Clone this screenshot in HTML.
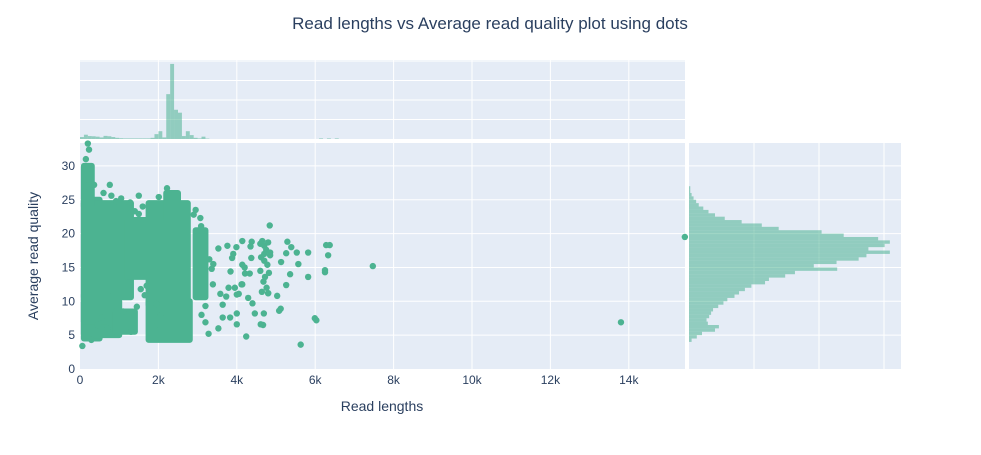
<!DOCTYPE html>
<html><head><meta charset="utf-8">
<style>
body{margin:0;background:#fff;}
svg text{font-family:"Liberation Sans",sans-serif;fill:#2a3f5f;}
</style></head>
<body>
<svg id="c" width="981" height="450" xmlns="http://www.w3.org/2000/svg">
<text x="490" y="29" text-anchor="middle" font-size="17">Read lengths vs Average read quality plot using dots</text>
<text x="382" y="411" text-anchor="middle" font-size="14">Read lengths</text>
<text transform="translate(38,256) rotate(-90)" text-anchor="middle" font-size="14">Average read quality</text>
</svg>
<script>
// scatter data (x in kb, y quality)
const ptX=[4.84,6.37,6.33,6.25,5.82,5.82,5.99,6.03,5.63,4.24,5.29,5.39,5.53,5.26,5.13,5.57,5.36,5.26,5.03,5.12,5.08,4.67,4.61,4.69,4.46,4.40,4.29,4.14,4.21,4.33,4.14,4.2,4.37,4.38,4.14,4.35,3.99,3.76,3.53,3.91,3.88,3.84,3.79,3.95,4.05,4.0,3.73,3.58,3.64,4.0,3.83,3.64,4.0,3.53,4.12,4.8,7.47,13.8,15.43,6.28,6.25,0.2,0.23,0.76,1.5,2.22,1.28,1.5,3.07,3.09,2.01,0.92,0.36,0.06,0.29,3.39,3.36,3.3,3.28,3.2,3.2,0.15,0.18,0.2,0.25,
4.6,4.65,4.7,4.75,4.8,4.85,4.62,4.7,4.78,4.85,4.6,4.72,4.82,4.68,4.76,4.64,4.8,4.7,
1.05,1.2,1.4,1.6,0.6,0.8,1.1,1.45,0.7,1.3,1.9,2.05,1.65,0.45,0.55,1.7,1.55,1.95,2.9,2.95,3.4,3.1];
const ptY=[21.2,18.3,16.8,14.3,17.2,13.6,7.5,7.2,3.6,4.8,18.8,18.0,17.2,17.1,15.8,15.5,14.0,12.4,10.8,8.9,8.6,6.5,6.6,8.2,8.2,9.7,10.5,12.5,14.1,14.1,15.4,15.0,16.4,18.8,18.9,18.1,18.0,18.2,17.8,17.0,16.4,14.4,12.0,12.0,11.1,11.0,10.7,11.1,9.5,8.2,7.6,7.6,6.6,6.0,12.5,11.2,15.2,6.9,19.5,18.3,14.6,33.3,32.4,27.2,25.6,26.7,24.6,22.9,22.3,21.1,25.4,24.8,27.2,3.4,4.3,12.5,14.8,16.2,5.2,6.9,9.3,31,29.5,28,26.5,
18.5,18.9,18.2,17.6,18.7,17.2,16.5,16.0,15.4,16.8,14.5,13.6,14.2,12.9,12.0,11.4,11.2,17.0,
25.2,23.8,23.3,24.0,26.0,25.6,8.5,9.2,6.0,5.5,6.3,7.9,10.9,6.5,7.6,12.3,11.8,9.6,22.8,23.5,15.5,8.0];
// dense clusters: [x0,x1,y0,y1] in kb / quality
const blobX0=[0.1,0.1,1.2,1.75,1.75,0.1,2.95,0.1,2.2,0.1,0.9];
const blobX1=[0.5,1.3,1.9,2.75,2.8,1.0,3.2,0.3,2.5,0.7,1.4];
const blobY0=[4.5,10.6,13.6,9.5,4.3,5.0,10.6,24,22,7,5.5];
const blobY1=[25,24.5,22,24.5,10,10,20.5,30,26,11,8.5];
// top histogram (100bp bins starting at 0)
const topCounts=[10,22,15,14,12,8,16,14,10,6,4,3,3,3,3,3,3,3,6,25,40,8,230,385,150,135,15,40,20,6,3,12,2,0,0,0,0,0,0,0,0,0,0,0,0,0,0,0,0,0,0,0,0,0,0,0,0,0,0,0,0,3,0,3,0,3];
// right histogram (quality bins of 0.5, starting at 4)
const qCounts=[4,12,20,40,46,29,27,31,34,37,45,53,59,70,77,86,96,117,123,148,163,228,192,227,261,273,309,276,301,309,291,238,204,138,112,81,55,40,30,22,15,11,7,4,2,2];
const NS='http://www.w3.org/2000/svg';
const svg=document.getElementById('c');
function mk(t,a,p){const e=document.createElementNS(NS,t);for(const k in a)e.setAttribute(k,a[k]);(p||svg).appendChild(e);return e;}
const X0=80,X1=685,Y0=143,Y1=369;
const sx=v=>X0+v*39.2, sy=v=>Y1-v*6.77;
const TB=139, ty=c=>TB-c*0.195;
const RB=689, rx=c=>RB+c*0.65;
const bin=0.1, qb=0.5, q0=4;
let e=mk('rect',{x:X0,y:Y0,width:X1-X0,height:Y1-Y0,fill:'#e5ecf6'});

e=mk('rect',{x:X0,y:60,width:X1-X0,height:TB-60,fill:'#e5ecf6'});

e=mk('rect',{x:RB,y:Y0,width:901-RB,height:Y1-Y0,fill:'#e5ecf6'});

for(let k=2;k<=14;k+=2){
 e=mk('line',{x1:sx(k),x2:sx(k),y1:Y0,y2:Y1,stroke:'#fff','stroke-width':1});
 
 e=mk('line',{x1:sx(k),x2:sx(k),y1:60,y2:TB,stroke:'#fff','stroke-width':1});
 
}
for(let v=5;v<=30;v+=5){
 e=mk('line',{x1:X0,x2:X1,y1:sy(v),y2:sy(v),stroke:'#fff','stroke-width':1});
 
 e=mk('line',{x1:RB,x2:901,y1:sy(v),y2:sy(v),stroke:'#fff','stroke-width':1});
 
}
for(let c=100;c<=400;c+=100){
 e=mk('line',{x1:X0,x2:X1,y1:ty(c),y2:ty(c),stroke:'#fff','stroke-width':1});
 
}
for(let c=100;c<=300;c+=100){
 e=mk('line',{x1:rx(c),x2:rx(c),y1:Y0,y2:Y1,stroke:'#fff','stroke-width':1});
 
}
topCounts.forEach((c,i)=>{if(!c)return;
 const r=mk('rect',{x:sx(i*bin),y:ty(c),width:39.2*bin,height:TB-ty(c),fill:'#4cb391','fill-opacity':0.55});
 });
qCounts.forEach((c,i)=>{
 const r=mk('rect',{x:RB,y:sy(q0+(i+1)*qb),width:rx(c)-RB,height:6.77*qb,fill:'#4cb391','fill-opacity':0.55});
 });
blobX0.forEach((x0,i)=>{
 const r=mk('rect',{x:sx(x0)-3,y:sy(blobY1[i])-3,width:sx(blobX1[i])-sx(x0)+6,height:sy(blobY0[i])-sy(blobY1[i])+6,rx:3,fill:'#4cb391'});
 });
ptX.forEach((x,i)=>{
 const c=mk('circle',{cx:sx(x),cy:sy(ptY[i]),r:3.2,fill:'#4cb391'});
 });
const xt=[0,2,4,6,8,10,12,14];
xt.forEach(k=>{const t=mk('text',{x:sx(k),y:384,'text-anchor':'middle','font-size':12});t.textContent=k?k+'k':'0';
 });
const yt=[0,5,10,15,20,25,30];
yt.forEach(v=>{const t=mk('text',{x:75,y:sy(v)+4,'text-anchor':'end','font-size':12});t.textContent=v;
 });
</script>
</body></html>
